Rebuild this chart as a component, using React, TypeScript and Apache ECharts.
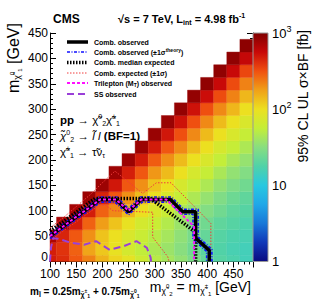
import React, { useEffect, useRef } from 'react';
import * as echarts from 'echarts';

// x bin centres (m_chi2 = m_chi1±) in GeV
const xCenters = [100, 125, 150, 175, 200, 225, 250, 275, 300, 325, 350, 375, 400, 425, 450, 475];
// y step of the grid (m_chi1^0), values listed from y = 0 upward
const yStep = 25;
// 95% CL UL sigma x BF [fb], one list per x column, from y = 0 up to the diagonal
const col100 = [480, 470, 700];
const col125 = [420, 400, 450, 720];
const col150 = [300, 280, 300, 480, 750];
const col175 = [220, 170, 200, 280, 480, 800];
const col200 = [150, 125, 130, 180, 280, 450, 800];
const col225 = [110, 95, 100, 130, 210, 300, 500, 800];
const col250 = [90, 70, 75, 95, 140, 200, 300, 470, 800];
const col275 = [65, 55, 60, 70, 100, 140, 200, 300, 480, 800];
const col300 = [50, 45, 50, 60, 75, 100, 130, 190, 290, 480, 820];
const col325 = [42, 38, 42, 48, 60, 75, 100, 140, 200, 300, 500, 820];
const col350 = [35, 32, 34, 38, 45, 58, 72, 100, 140, 210, 320, 520, 850];
const col375 = [28, 25, 27, 30, 36, 45, 56, 72, 100, 140, 210, 320, 520, 850];
const col400 = [22, 20, 22, 25, 30, 36, 45, 58, 75, 100, 140, 210, 320, 540, 870];
const col425 = [19, 18, 19, 21, 25, 29, 35, 44, 56, 72, 100, 140, 210, 330, 560, 880];
const col450 = [17, 16, 17, 19, 21, 24, 29, 35, 44, 58, 75, 100, 145, 220, 330, 560, 880];
const col475 = [15, 15, 16, 17, 19, 21, 25, 30, 36, 45, 58, 75, 100, 145, 220, 340, 580, 900];
const columns = [col100, col125, col150, col175, col200, col225, col250, col275, col300, col325, col350, col375, col400, col425, col450, col475];

// contours [m_chi2, m_chi1^0] in GeV
const combObserved = [[100, 50], [125, 69], [150, 88], [175, 106], [195, 122], [226, 122], [250, 98], [274, 122], [330, 122], [353, 98], [378, 98], [378, 46], [404, 22], [404, 0]];
const combObsTheoryUp = [[100, 55], [125, 74], [150, 93], [175, 111], [193, 127], [228, 127], [250, 104], [272, 127], [332, 127], [355, 103], [383, 103], [383, 48], [409, 24], [409, 0]];
const combObsTheoryDown = [[100, 45], [125, 64], [150, 83], [175, 101], [197, 117], [224, 117], [250, 92], [276, 117], [328, 117], [351, 93], [373, 93], [373, 44], [399, 20], [399, 0]];
const combExpected = [[100, 60], [125, 78], [150, 97], [175, 116], [186, 124], [292, 124], [372, 62], [378, 56], [378, 0]];
const combExpUp = [[100, 66], [125, 86], [150, 108], [175, 130], [200, 155], [224, 178], [277, 134], [303, 155], [331, 155], [407, 75], [407, 0]];
const combExpDown = [[100, 42], [150, 78], [190, 108], [205, 112], [220, 100], [296, 97], [296, 48], [325, 9], [327, 0]];
const trileptonObserved = [[100, 50], [125, 69], [150, 88], [175, 106], [195, 122], [226, 122], [250, 100], [274, 122], [322, 122], [372, 72], [375, 68], [375, 0]];
const ssObserved = [[100, 0], [102, 28], [106, 46], [115, 45], [140, 37], [165, 33], [188, 40], [214, 23], [240, 30], [265, 40], [285, 27], [292, 8], [293, 0]];

const xTicks = [100, 150, 200, 250, 300, 350, 400, 450];
const yTicks = [0, 50, 100, 150, 200, 250, 300, 350, 400, 450];
const zTicks = [1, 10, 100, 1000];

const palette = ['#0a0a80', '#1038b8', '#1878d8', '#20a8e8', '#28c8e0', '#50d2a8', '#88de80', '#c4ee38', '#ece020', '#f0a018', '#f05010', '#c80808', '#800000'];

const FONT = 'Liberation Sans, Arial, Helvetica, sans-serif';

const L_OBS = 'Comb. observed';
const L_THEO = 'Comb. observed (±1σ theory)';
const L_EXP = 'Comb. median expected';
const L_EXP1 = 'Comb. expected (±1σ)';
const L_TRI = 'Trilepton (MT) observed';
const L_SS = 'SS observed';

const STY: Record<string, { color: string; width: number; dash: any }> = {
  [L_OBS]: { color: '#000', width: 3.5, dash: 'solid' },
  [L_THEO]: { color: '#1010ff', width: 1.6, dash: [3, 1.5, 1, 1.5] },
  [L_EXP]: { color: '#000', width: 3.5, dash: [1.5, 1.5] },
  [L_EXP1]: { color: '#f03c3c', width: 1, dash: [1.5, 1.5] },
  [L_TRI]: { color: '#ff10ff', width: 2, dash: [3, 2] },
  [L_SS]: { color: '#9a3fd8', width: 2, dash: [7, 4] },
};
const legendOrder = [L_OBS, L_THEO, L_EXP, L_EXP1, L_TRI, L_SS];
const legendRows = [42, 52, 62.5, 73, 83, 94];

export default function App() {
  const ref = useRef<HTMLDivElement>(null);
  useEffect(() => {
    if (!ref.current) return;
    const chart = echarts.init(ref.current, undefined, { renderer: 'svg' });

    const heat: number[][] = [];
    columns.forEach((col, i) => {
      col.forEach((v, j) => heat.push([xCenters[i], j * yStep, Math.log10(v)]));
    });

    const axisCommon = {
      axisLine: { show: true, lineStyle: { color: '#000', width: 1 } },
      axisTick: { show: true, inside: true, length: 6, lineStyle: { color: '#000', width: 1 } },
      minorTick: { show: true, splitNumber: 5, length: 3, lineStyle: { color: '#000', width: 1 } },
      splitLine: { show: false },
      minorSplitLine: { show: false },
    };

    const lineSeries = (name: string, data: number[][], z: number) => ({
      type: 'line', name, data, xAxisIndex: 0, yAxisIndex: 0, showSymbol: false, symbol: 'none',
      lineStyle: { color: STY[name].color, width: STY[name].width, type: STY[name].dash },
      itemStyle: { color: STY[name].color }, z, silent: true, clip: true,
    });

    const sup = { fontSize: 7, fontWeight: 'bold', fontFamily: FONT, padding: [0, 0, 7, 0], color: '#000' };
    const sub = { fontSize: 7, fontWeight: 'bold', fontFamily: FONT, padding: [6, 0, 0, 0], color: '#000' };

    const legendGraphics: any[] = [];
    legendOrder.forEach((n, i) => {
      const s = STY[n];
      const y = legendRows[i];
      legendGraphics.push({ type: 'line', shape: { x1: 67, y1: y, x2: 88, y2: y },
        style: { stroke: s.color, lineWidth: s.width, lineDash: s.dash === 'solid' ? null : s.dash }, z: 20 });
      let text = '{n|' + n + '}';
      if (n === L_THEO) text = '{n|Comb. observed (±1σ}{s|theory}{n|)}';
      if (n === L_TRI) text = '{n|Trilepton (M}{b|T}{n|) observed}';
      legendGraphics.push({ type: 'text', x: 94, y, z: 20, style: {
        text, verticalAlign: 'middle',
        rich: { n: { fontSize: 7, fontWeight: 'bold', fontFamily: FONT, fill: '#000' },
          s: { fontSize: 5, fontWeight: 'bold', fontFamily: FONT, padding: [0, 0, 5, 0] },
          b: { fontSize: 5, fontWeight: 'bold', fontFamily: FONT, padding: [4, 0, 0, 0] } } } });
    });

    const option: any = {
      animation: false,
      backgroundColor: '#fff',
      textStyle: { fontFamily: FONT },
      grid: [
        { left: 50, top: 33, width: 203, height: 228.5, containLabel: false },
        { left: 253, top: 33, width: 15, height: 228.5, containLabel: false },
      ],
      xAxis: [
        { gridIndex: 0, type: 'value', min: 100, max: 487.5, interval: 50, position: 'bottom', ...axisCommon,
          axisLabel: { fontSize: 12, color: '#000', margin: 6, fontFamily: FONT, showMaxLabel: false,
            formatter: (v: number) => (xTicks.includes(v) ? String(v) : '') } },
        { gridIndex: 0, type: 'value', min: 100, max: 487.5, interval: 50, position: 'top', ...axisCommon, axisLabel: { show: false } },
        { gridIndex: 1, type: 'value', min: 0, max: 1, show: false },
      ],
      yAxis: [
        { gridIndex: 0, type: 'value', min: 0, max: 450, interval: 50, position: 'left', ...axisCommon,
          axisLabel: { fontSize: 12, color: '#000', margin: 2, fontFamily: FONT,
            formatter: (v: number) => (v === 0 ? '{z|0}' : yTicks.includes(v) ? String(v) : ''),
            rich: { z: { fontSize: 12, fontFamily: FONT, color: '#000', padding: [0, 0, 9, 0] } } } },
        { gridIndex: 0, type: 'value', min: 0, max: 450, interval: 50, position: 'right', ...axisCommon, axisLabel: { show: false } },
        { gridIndex: 1, type: 'log', logBase: 10, min: 1, max: 1000, position: 'right',
          axisLine: { show: true, lineStyle: { color: '#888', width: 1 } },
          axisTick: { show: true, inside: true, length: 4, lineStyle: { color: '#000' } },
          splitLine: { show: false },
          axisLabel: { fontSize: 13, color: '#000', margin: 4, fontFamily: FONT,
            formatter: (v: number) => {
              const k = Math.round(Math.log10(v));
              if (!zTicks.includes(Math.round(v))) return '';
              if (k === 0) return '1';
              if (k === 1) return '10';
              return '10{s|' + k + '}';
            },
            rich: { s: { fontSize: 9, padding: [0, 0, 8, 0], fontFamily: FONT, color: '#000' } } } },
      ],
      visualMap: {
        type: 'continuous', show: false, min: 0, max: 3, dimension: 2, seriesIndex: 0,
        inRange: { color: palette },
      },
      series: [
        {
          type: 'custom', name: 'UL', xAxisIndex: 0, yAxisIndex: 0, data: heat, z: 1, silent: true,
          encode: { x: 0, y: 1 },
          renderItem: (params: any, api: any) => {
            const x = api.value(0), y = api.value(1);
            const p0 = api.coord([x - 12.5, y + 12.5]);
            const p1 = api.coord([x + 12.5, y - 12.5]);
            const cs = params.coordSys;
            const r = echarts.graphic.clipRectByRect(
              { x: p0[0], y: p0[1], width: p1[0] - p0[0], height: p1[1] - p0[1] },
              { x: cs.x, y: cs.y, width: cs.width, height: cs.height });
            if (!r) return null;
            const c = api.visual('color');
            return { type: 'rect', shape: r, style: { fill: c, stroke: c, lineWidth: 0.4 } };
          },
        },
        {
          type: 'custom', name: 'colorbar', xAxisIndex: 2, yAxisIndex: 2, data: [[0.5, 10]], silent: true, z: 1,
          renderItem: (params: any) => {
            const cs = params.coordSys;
            const stops = palette.map((c, i) => ({ offset: 1 - i / (palette.length - 1), color: c }));
            stops.reverse();
            return { type: 'rect', shape: { x: cs.x, y: cs.y, width: cs.width, height: cs.height },
              style: { fill: new echarts.graphic.LinearGradient(0, 0, 0, 1, stops), stroke: '#999', lineWidth: 1 } };
          },
        },
        lineSeries(L_EXP1, combExpUp, 5),
        lineSeries(L_EXP1, combExpDown, 5),
        lineSeries(L_SS, ssObserved, 5),
        lineSeries(L_THEO, combObsTheoryUp, 6),
        lineSeries(L_THEO, combObsTheoryDown, 6),
        lineSeries(L_OBS, combObserved, 7),
        lineSeries(L_EXP, combExpected, 8),
        lineSeries(L_TRI, trileptonObserved, 9),
      ],
      graphic: [
        ...legendGraphics,
        { type: 'text', x: 53, y: 19, style: { text: 'CMS', font: `bold 12px ${FONT}`, fill: '#000', verticalAlign: 'middle' } },
        { type: 'text', x: 118, y: 19, style: {
          text: '{n|√s = 7 TeV, L}{b|int}{n| = 4.98 fb}{s|-1}', verticalAlign: 'middle',
          rich: { n: { fontSize: 11, fontWeight: 'bold', fontFamily: FONT }, b: { ...sub }, s: { ...sup } } } },
        { type: 'text', x: 60, y: 120, style: {
          text: '{n|pp} {a|→} {c|χ̃}{s|0}{b|2}{c|χ̃}{s|±}{b|1}', verticalAlign: 'middle',
          rich: { n: { fontSize: 11.5, fontWeight: 'bold', fontFamily: FONT }, a: { fontSize: 11.5, fontFamily: FONT },
            c: { fontSize: 11.5, fontFamily: FONT }, s: { ...sup, fontWeight: 'normal' }, b: { ...sub, fontWeight: 'normal' } } } },
        { type: 'text', x: 60, y: 136, style: {
          text: '{c|χ̃}{s|0}{b|2} {a|→} {c|l̃ l} {n|(BF=1)}', verticalAlign: 'middle',
          rich: { n: { fontSize: 11.5, fontWeight: 'bold', fontFamily: FONT }, a: { fontSize: 11.5, fontFamily: FONT },
            c: { fontSize: 11.5, fontFamily: FONT, fontStyle: 'italic' }, s: { ...sup, fontWeight: 'normal' }, b: { ...sub, fontWeight: 'normal' } } } },
        { type: 'text', x: 60, y: 152, style: {
          text: '{c|χ̃}{s|±}{b|1} {a|→} {c|τ̃ν}{b|τ}', verticalAlign: 'middle',
          rich: { a: { fontSize: 11.5, fontFamily: FONT }, c: { fontSize: 11.5, fontFamily: FONT },
            s: { ...sup, fontWeight: 'normal' }, b: { ...sub, fontWeight: 'normal' } } } },
        { type: 'text', x: 13, y: 23, rotation: Math.PI / 2, style: {
          text: '{n|m}{b|χ̃}{t|0}{u|1}{n| [GeV]}', align: 'right', verticalAlign: 'middle',
          rich: { n: { fontSize: 16, fontFamily: FONT }, b: { fontSize: 9, fontFamily: FONT, padding: [8, 0, 0, 0] },
            t: { fontSize: 6, fontFamily: FONT, padding: [0, 0, 2, 0] }, u: { fontSize: 6, fontFamily: FONT, padding: [14, 0, 0, 0] } } } },
        { type: 'text', x: 251, y: 287, style: {
          text: '{n|m}{b|χ̃}{t|0}{u|2}{n| = m}{b|χ̃}{t|±}{u|1}{n| [GeV]}', align: 'right', verticalAlign: 'middle',
          rich: { n: { fontSize: 14, fontFamily: FONT }, b: { fontSize: 8.5, fontFamily: FONT, padding: [8, 0, 0, 0] },
            t: { fontSize: 6, fontFamily: FONT, padding: [0, 0, 2, 0] }, u: { fontSize: 6, fontFamily: FONT, padding: [14, 0, 0, 0] } } } },
        { type: 'text', x: 30, y: 291, style: {
          text: '{n|m}{b|l̃}{n| = 0.25m}{b|χ̃}{t|±}{u|1}{n| + 0.75m}{b|χ̃}{t|0}{u|1}', verticalAlign: 'middle',
          rich: { n: { fontSize: 10, fontWeight: 'bold', fontFamily: FONT }, b: { fontSize: 7, fontWeight: 'bold', fontFamily: FONT, padding: [6, 0, 0, 0] },
            t: { fontSize: 5, fontWeight: 'bold', fontFamily: FONT, padding: [0, 0, 1, 0] }, u: { fontSize: 5, fontWeight: 'bold', fontFamily: FONT, padding: [10, 0, 0, 0] } } } },
        { type: 'text', x: 303, y: 30, rotation: Math.PI / 2, style: {
          text: '95% CL UL σ×BF [fb]', font: `14px ${FONT}`, fill: '#000', align: 'right', verticalAlign: 'middle' } },
      ],
    };
    chart.setOption(option);
    return () => chart.dispose();
  }, []);
  return <div ref={ref} style={{ width: 315, height: 302, position: 'absolute', left: 0, top: 0 }} />;
}
